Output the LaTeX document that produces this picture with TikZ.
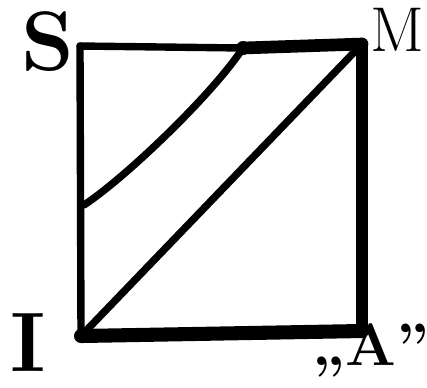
\documentclass[tikz,border=0pt]{standalone}
\usepackage{tikz}

\begin{document}
\begin{tikzpicture}[x=0.01cm,y=-0.01cm,line cap=round,line join=round,
    pen/.style={line width=2.1pt},
    heavy/.style={line width=3.6pt},
    corner/.style={font=\fontsize{24}{24}\selectfont\bfseries}]
\useasboundingbox (0,0) rectangle (427,387);
% corners of the square
\coordinate (s) at (80,46);
\coordinate (m) at (362,44);
\coordinate (i) at (81,336);
\coordinate (a) at (362,331);
% ends of the curve
\coordinate (p) at (84,205);
\coordinate (q) at (243,48);
\node[corner] (S) at (48,42) {S};
\node[corner,font=\fontsize{18}{18}\selectfont,inner sep=0pt] (M) at (397,30) {M};
\node[corner] (I) at (28,343) {I};
\node[corner,font=\fontsize{17}{17}\selectfont\bfseries] (A) at (371,350) {,,A''};
\draw[pen] (s) -- (q);
\draw[heavy] (q) -- (m);
\draw[pen] (s) -- (i);
\draw[heavy] (m) -- (a);
\draw[line width=4pt] (i) -- (a);
\draw[pen] (i) -- (m);
\draw[pen] (p) .. controls (125,178) and (212,95) .. (q);
\fill (q) circle (7);
\end{tikzpicture}
\end{document}
